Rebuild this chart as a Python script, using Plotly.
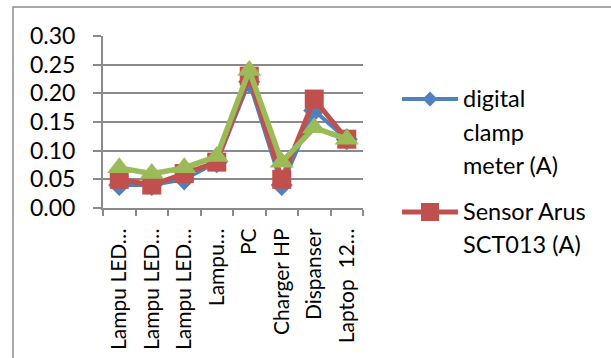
import plotly.graph_objects as go

# Appliance categories (labels as shown, truncated on the axis)
categories = ["Lampu LED…", "Lampu LED…", "Lampu LED…", "Lampu…",
              "PC", "Charger HP", "Dispanser", "Laptop\u00a0\u00a012…"]
x_pos = list(range(1, len(categories) + 1))

# Measured current (A)
clamp_meter = [0.04, 0.04, 0.05, 0.08, 0.22, 0.04, 0.17, 0.12]
sensor_sct013 = [0.05, 0.04, 0.06, 0.08, 0.23, 0.05, 0.19, 0.12]
series_3 = [0.07, 0.06, 0.07, 0.09, 0.24, 0.08, 0.14, 0.12]

y_ticks = [0.00, 0.05, 0.10, 0.15, 0.20, 0.25, 0.30]

# Legend entries: text lines per series
legend_lines = [
    ["digital", "clamp", "meter (A)"],
    ["Sensor Arus", "SCT013 (A)"],
]

FONT = "Lato"
GRID = "#8a8a8a"
BLUE, RED, GREEN = "#4F81BD", "#C0504D", "#9BBB59"

W, H = 611, 358
ML, MR, MT, MB = 103, 248, 36, 150
PW, PH = W - ML - MR, H - MT - MB


def px_x(px):
    """Pixel column -> paper x."""
    return (px - ML) / PW


def px_y(py):
    """Pixel row -> paper y."""
    return (H - MB - py) / PH


fig = go.Figure()
fig.add_trace(go.Scatter(
    x=x_pos, y=clamp_meter, name="digital clamp meter (A)",
    mode="lines+markers", showlegend=False,
    line=dict(color=BLUE, width=4),
    marker=dict(symbol="diamond", size=17, color=BLUE, line=dict(width=0)),
))
fig.add_trace(go.Scatter(
    x=x_pos, y=sensor_sct013, name="Sensor Arus SCT013 (A)",
    mode="lines+markers", showlegend=False,
    line=dict(color=RED, width=5),
    marker=dict(symbol="square", size=19, color=RED, line=dict(width=0)),
))
fig.add_trace(go.Scatter(
    x=x_pos, y=series_3, name="Seri 3", showlegend=False,
    mode="lines+markers",
    line=dict(color=GREEN, width=5.5),
    marker=dict(symbol="triangle-up", size=21, color=GREEN, line=dict(width=0)),
))

# Outer chart frame (left and top edges)
fig.add_shape(type="path", xref="paper", yref="paper",
              path=f"M {px_x(13)},{px_y(370)} L {px_x(13)},{px_y(7)} L {px_x(620)},{px_y(7)}",
              line=dict(color="#8c8c8c", width=1.5))

# Legend: line keys with markers, and the text beside them
key_x0, key_x1, key_mid, text_x = 402, 458, 430, 461
line_rows = [[98, 132, 165], [211, 244]]
key_styles = [(BLUE, 4, "diamond"), (RED, 5, "square")]
for lines, rows, (color, lw, shape) in zip(legend_lines, line_rows, key_styles):
    ky = rows[0] + 1
    fig.add_shape(type="line", xref="paper", yref="paper",
                  x0=px_x(key_x0), x1=px_x(key_x1), y0=px_y(ky), y1=px_y(ky),
                  line=dict(color=color, width=lw))
    if shape == "diamond":
        d = 7.5
        path = (f"M {px_x(key_mid - d)},{px_y(ky)} L {px_x(key_mid)},{px_y(ky - d)} "
                f"L {px_x(key_mid + d)},{px_y(ky)} L {px_x(key_mid)},{px_y(ky + d)} Z")
        fig.add_shape(type="path", xref="paper", yref="paper", path=path,
                      fillcolor=color, line=dict(width=0))
    else:
        s = 9
        fig.add_shape(type="rect", xref="paper", yref="paper",
                      x0=px_x(key_mid - s), x1=px_x(key_mid + s),
                      y0=px_y(ky - s), y1=px_y(ky + s),
                      fillcolor=color, line=dict(width=0))
    for text, row in zip(lines, rows):
        fig.add_annotation(text=text, xref="paper", yref="paper",
                           x=px_x(text_x), y=px_y(row),
                           xanchor="left", yanchor="middle", showarrow=False,
                           font=dict(family=FONT, size=23.5, color="black"))

fig.update_layout(
    width=W, height=H,
    margin=dict(l=ML, r=MR, t=MT, b=MB, autoexpand=False),
    paper_bgcolor="white", plot_bgcolor="white",
    font=dict(family=FONT, size=22, color="black"),
    showlegend=False,
    xaxis=dict(
        range=[0.5, len(categories) + 0.5], automargin=False,
        tickvals=x_pos, ticktext=categories, tickangle=-90,
        ticks="", ticklabelstandoff=10,
        showgrid=False, zeroline=False,
        showline=True, linecolor=GRID, linewidth=2,
        tickfont=dict(family=FONT, size=21),
        minor=dict(tickvals=[i + 0.5 for i in range(len(categories) + 1)],
                   ticks="outside", ticklen=6, tickcolor=GRID, tickwidth=2,
                   showgrid=False),
    ),
    yaxis=dict(
        range=[0, 0.3], tickvals=y_ticks, tickformat=".2f", automargin=False,
        ticks="outside", ticklen=8, tickcolor=GRID, tickwidth=2,
        ticklabelstandoff=13,
        showgrid=True, gridcolor=GRID, gridwidth=2,
        zeroline=False, showline=True, linecolor=GRID, linewidth=2,
        tickfont=dict(family=FONT, size=23),
    ),
)

fig.write_html("out.html")
